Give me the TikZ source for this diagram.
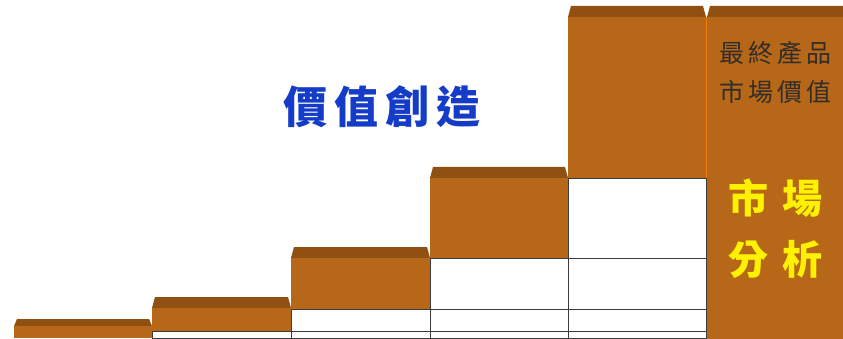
\documentclass[tikz,border=0pt]{standalone}
\usepackage{fontspec}
\newfontfamily\cjk{Noto Sans CJK TC}
\definecolor{frontc}{RGB}{183,103,24}
\definecolor{topc}{RGB}{143,80,18}
\definecolor{gridc}{RGB}{60,60,60}
\definecolor{titlec}{RGB}{20,60,200}
\definecolor{grayt}{RGB}{50,45,40}
\tikzset{
  frontface/.style={fill=frontc},
  bevelface/.style={fill=topc},
  cell/.style={draw=gridc, line width=0.8pt, fill=white},
  titletext/.style={font=\cjk\bfseries\fontsize{44}{48}\selectfont, text=titlec, inner sep=0pt},
  smalltext/.style={font=\cjk\fontsize{25}{28}\selectfont, text=grayt, inner sep=0pt},
  bigtext/.style={font=\cjk\bfseries\fontsize{40}{44}\selectfont, text=yellow, inner sep=0pt}
}
\newcommand\stepblock[5]{%
  \fill[bevelface] (#1,#3) -- (#1+3,#3-#5) -- (#2-3,#3-#5) -- (#2,#3) -- cycle;
  \fill[frontface] (#1,#3) rectangle (#2,#4);}
\begin{document}
\begin{tikzpicture}[x=1pt,y=-1pt]
\useasboundingbox[fill=white] (0,0) rectangle (843,339);
% orange step blocks
\stepblock{14}{152}{326}{338}{7}
\stepblock{152}{291}{308}{331}{11}
\stepblock{291}{430}{258}{309}{11}
\stepblock{430}{568}{178}{258}{11}
\stepblock{568}{706}{17}{178}{11}
\stepblock{707}{846}{17}{339}{11}
\draw[draw=orange!80!frontc, line width=1pt] (706.5,17) -- (706.5,339);
% white cells
\draw[cell] (152,331) rectangle (291,338);
\foreach \ya/\yb in {309/331,331/338} \draw[cell] (291,\ya) rectangle (430,\yb);
\foreach \ya/\yb in {258/309,309/331,331/338} \draw[cell] (430,\ya) rectangle (568,\yb);
\foreach \ya/\yb in {178/258,258/309,309/331,331/338} \draw[cell] (568,\ya) rectangle (706,\yb);
% texts
\node[titletext] (title) at (382,107) {價\hspace{7pt}值\hspace{7pt}創\hspace{7pt}造};
\node[smalltext] (l1) at (775,53) {最\hspace{4pt}終\hspace{4pt}產\hspace{4pt}品};
\node[smalltext] (l2) at (775,92) {市\hspace{4pt}場\hspace{4pt}價\hspace{4pt}值};
\node[bigtext] (b1) at (775,198) {市\hspace{14pt}場};
\node[bigtext] (b2) at (775,259) {分\hspace{14pt}析};
\end{tikzpicture}
\end{document}
